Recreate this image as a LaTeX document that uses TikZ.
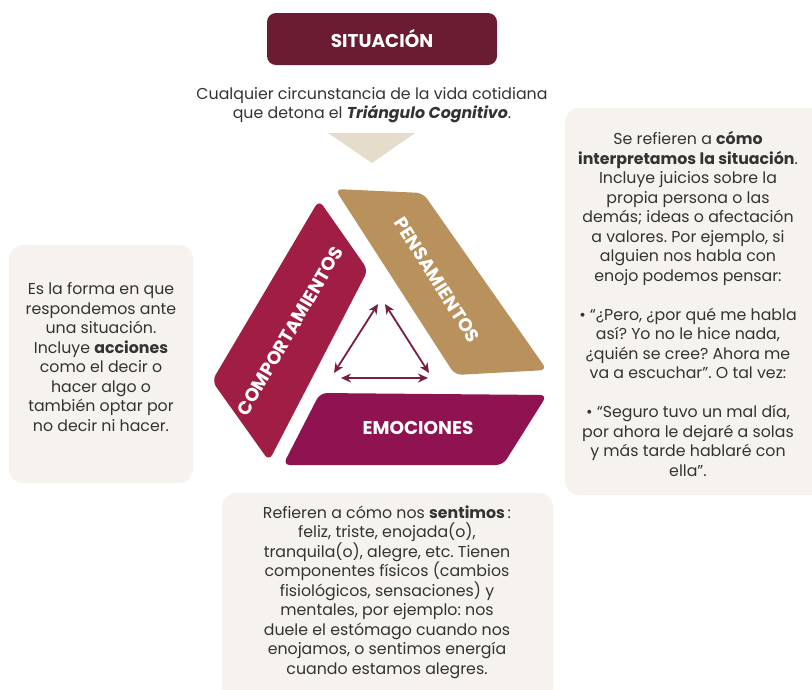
\documentclass[tikz,border=0pt]{standalone}
\usepackage{fontspec}
\setmainfont{Poppins}
\usetikzlibrary{arrows.meta}
\definecolor{sitcol}{HTML}{6A1C31}
\definecolor{pencol}{HTML}{B8915C}
\definecolor{comcol}{HTML}{A01E43}
\definecolor{emocol}{HTML}{8E1350}
\definecolor{arrcol}{HTML}{7B1E3A}
\definecolor{tricol}{HTML}{E6DCCB}
\definecolor{boxcol}{HTML}{F6F3EF}
\definecolor{txtcol}{HTML}{333333}
\frenchspacing
\tikzset{
  infobox/.style={fill=boxcol, draw=none, rounded corners=14pt},
  bodytext/.style={text=txtcol, align=center, font=\fontsize{15.8}{19.5}\selectfont, inner sep=0pt},
  piece/.style={draw=none, rounded corners=7pt},
  piecelabel/.style={text=white, font=\fontsize{18.5}{20}\selectfont\bfseries, inner sep=0pt},
  dblarrow/.style={draw=arrcol, line width=1.8pt, {Stealth[length=10pt,width=9pt]}-{Stealth[length=10pt,width=9pt]}}
}
\begin{document}
\begin{tikzpicture}[x=1pt,y=-1pt]
\useasboundingbox (0,0) rectangle (812,689);
\clip (0,0) rectangle (812,689);
\fill[white] (0,0) rectangle (812,689);
% situacion box
\node[fill=sitcol, rounded corners=9pt, minimum width=230pt, minimum height=52pt, inner sep=0pt,
      text=white, font=\fontsize{18.5}{20}\selectfont\bfseries] (sit) at (382,39) {SITUACIÓN};
\node[bodytext] (sittext) at (372,105) {Cualquier circunstancia de la vida cotidiana\\que detona el \textbf{\textit{Triángulo Cognitivo}}.};
% down triangle
\fill[tricol] (328,133) -- (415,133) -- (372,163) -- cycle;
% pieces
\fill[pencol, piece] (335,189) -- (423,193) -- (547,370) -- (455,375) -- cycle;
\fill[comcol, piece] (319,200) -- (368,270) -- (269,461) -- (212,381) -- cycle;
\fill[emocol, piece] (320,393) -- (547,395) -- (503,465) -- (283,465) -- cycle;
\node[piecelabel, rotate=-57.7] (pen) at (437,280) {PENSAMIENTOS};
\node[piecelabel, rotate=59.8] (com) at (290,331) {COMPORTAMIENTOS};
\node[piecelabel] (emo) at (418,428) {EMOCIONES};
% inner arrows
\coordinate (tA) at (378,304);
\coordinate (tB) at (385,304);
\coordinate (lA) at (334,373);
\coordinate (lB) at (341,378);
\coordinate (rA) at (429,373);
\coordinate (rB) at (428,378);
\draw[dblarrow] (tA) -- (lA);
\draw[dblarrow] (tB) -- (rA);
\draw[dblarrow] (lB) -- (rB);
% right box
\fill[infobox] (565,108) rectangle (830,495);
\node[bodytext] (pentext) at (688,304) {Se refieren a \textbf{cómo}\\\textbf{interpretamos la situación}.\\Incluye juicios sobre la\\propia persona o las\\demás; ideas o afectación\\a valores. Por ejemplo, si\\alguien nos habla con\\enojo podemos pensar:\\[19.5pt]• “¿Pero, ¿por qué me habla\\así? Yo no le hice nada,\\¿quién se cree? Ahora me\\va a escuchar”. O tal vez:\\[19.5pt]• “Seguro tuvo un mal día,\\por ahora le dejaré a solas\\y más tarde hablaré con\\ella”.};
% left box
\fill[infobox] (9,245) rectangle (193,483);
\node[bodytext] (comtext) at (101,357) {Es la forma en que\\respondemos ante\\una situación.\\Incluye \textbf{acciones}\\como el decir o\\hacer algo o\\también optar por\\no decir ni hacer.};
% bottom box
\fill[infobox] (222,493) rectangle (553,710);
\node[bodytext] (emotext) at (387,592) {Refieren a cómo nos \textbf{sentimos}\,:\\feliz, triste, enojada(o),\\tranquila(o), alegre, etc. Tienen\\componentes físicos (cambios\\fisiológicos, sensaciones) y\\mentales, por ejemplo: nos\\duele el estómago cuando nos\\enojamos, o sentimos energía\\cuando estamos alegres.};
\end{tikzpicture}
\end{document}
